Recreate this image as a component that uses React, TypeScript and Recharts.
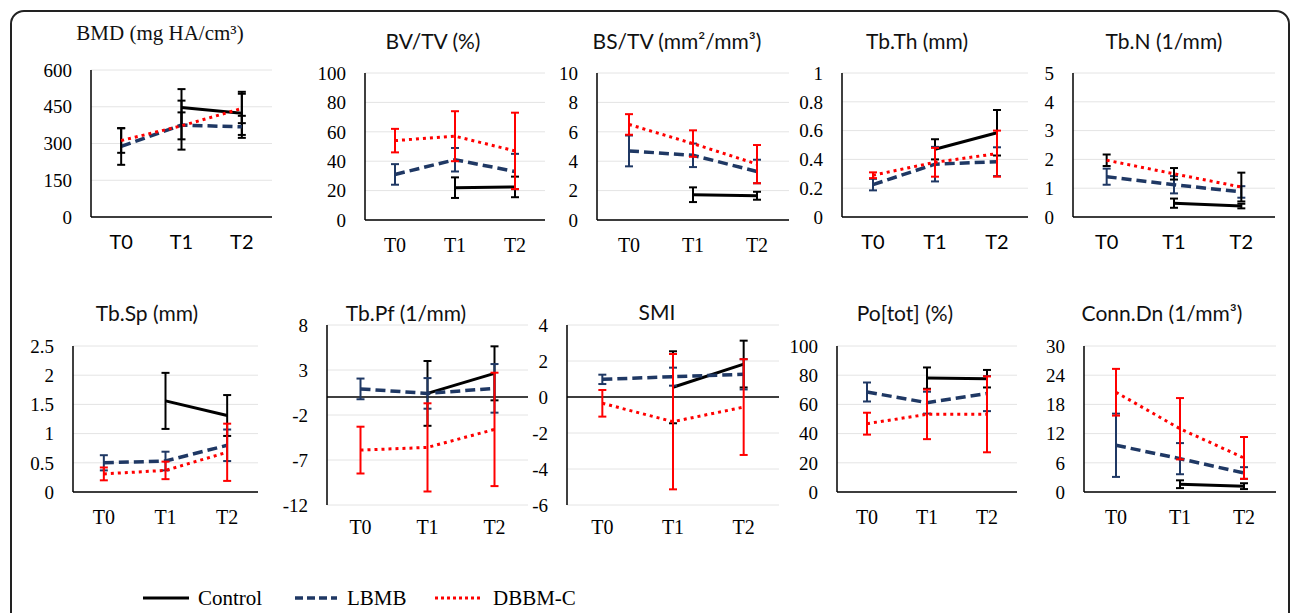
import React from 'react';
import { LineChart, Line, XAxis, YAxis, CartesianGrid, ErrorBar, ReferenceLine } from 'recharts';

const categories = ['T0', 'T1', 'T2'];

const bmd = {
  control: [null, 447, 423], controlSd: [null, 75, 88],
  lbmb: [288, 375, 368], lbmbSd: [75, 100, 45],
  dbbm: [312, 372, 443], dbbmSd: [50, 55, 60],
};
const bvtv = {
  control: [null, 22, 22.5], controlSd: [null, 7, 7],
  lbmb: [31, 41, 33], lbmbSd: [7, 8, 12],
  dbbm: [54, 57, 47], dbbmSd: [8, 17, 26],
};
const bstv = {
  control: [null, 1.72, 1.65], controlSd: [null, 0.5, 0.27],
  lbmb: [4.7, 4.4, 3.3], lbmbSd: [1.05, 0.8, 0.8],
  dbbm: [6.5, 5.2, 3.8], dbbmSd: [0.7, 0.9, 1.3],
};
const tbth = {
  control: [null, 0.47, 0.585], controlSd: [null, 0.07, 0.158],
  lbmb: [0.225, 0.367, 0.384], lbmbSd: [0.04, 0.12, 0.1],
  dbbm: [0.29, 0.38, 0.44], dbbmSd: [0.02, 0.1, 0.16],
};
const tbn = {
  control: [null, 0.48, 0.38], controlSd: [null, 0.16, 0.08],
  lbmb: [1.4, 1.12, 0.87], lbmbSd: [0.28, 0.3, 0.2],
  dbbm: [1.97, 1.5, 1.04], dbbmSd: [0.2, 0.2, 0.5],
};
const tbsp = {
  control: [null, 1.56, 1.31], controlSd: [null, 0.48, 0.35],
  lbmb: [0.5, 0.53, 0.8], lbmbSd: [0.13, 0.16, 0.27],
  dbbm: [0.31, 0.37, 0.68], dbbmSd: [0.11, 0.15, 0.49],
};
const tbpf = {
  control: [null, 0.4, 2.63], controlSd: [null, 3.6, 3.0],
  lbmb: [0.9, 0.4, 0.96], lbmbSd: [1.15, 1.7, 2.7],
  dbbm: [-5.9, -5.6, -3.6], dbbmSd: [2.6, 4.9, 6.3],
};
const smi = {
  control: [null, 0.54, 1.83], controlSd: [null, 2.0, 1.3],
  lbmb: [0.98, 1.13, 1.26], lbmbSd: [0.26, 0.5, 0.84],
  dbbm: [-0.35, -1.37, -0.56], dbbmSd: [0.74, 3.76, 2.66],
};
const potot = {
  control: [null, 78, 77.6], controlSd: [null, 7.3, 6],
  lbmb: [68.5, 61.2, 67.4], lbmbSd: [6.5, 7.5, 12],
  dbbm: [46.8, 53.2, 53.2], dbbmSd: [7.5, 17, 26],
};
const conndn = {
  control: [null, 1.6, 1.2], controlSd: [null, 0.8, 0.6],
  lbmb: [9.6, 6.85, 3.9], lbmbSd: [6.5, 3.2, 1.2],
  dbbm: [20.5, 13, 7], dbbmSd: [4.8, 6.3, 4.3],
};

const NAVY = '#1f3864';
const RED = '#ff0000';
const SERIF = "'Liberation Serif', 'DejaVu Serif', serif";
const SANS = "Lato, 'Open Sans', sans-serif";

const own = ['#000', NAVY, RED];

const panels = [
  { id: 'bmd', d: bmd, title: 'BMD (mg HA/cm³)', tFont: SERIF, tSize: 21, tx: 160, ty: 33, x0: 91, x1: 272, y0: 70, y1: 217, domain: [0, 600], ticks: [0, 150, 300, 450, 600], xFont: SANS, zero: false, err: ['#000', '#000', '#000'] },
  { id: 'bvtv', d: bvtv, title: 'BV/TV (%)', tFont: SANS, tSize: 21, tx: 433, ty: 40, x0: 365, x1: 545, y0: 73, y1: 220, domain: [0, 100], ticks: [0, 20, 40, 60, 80, 100], xFont: SERIF, zero: false, err: own },
  { id: 'bstv', d: bstv, title: 'BS/TV (mm²/mm³)', tFont: SANS, tSize: 21, tx: 677, ty: 40, x0: 597, x1: 789, y0: 73, y1: 220, domain: [0, 10], ticks: [0, 2, 4, 6, 8, 10], xFont: SERIF, zero: false, err: own },
  { id: 'tbth', d: tbth, title: 'Tb.Th (mm)', tFont: SANS, tSize: 21, tx: 917, ty: 40, x0: 842, x1: 1028, y0: 73, y1: 217, domain: [0, 1], ticks: [0, 0.2, 0.4, 0.6, 0.8, 1], xFont: SANS, zero: false, err: own },
  { id: 'tbn', d: tbn, title: 'Tb.N (1/mm)', tFont: SANS, tSize: 21, tx: 1164, ty: 40, x0: 1073, x1: 1275, y0: 73, y1: 217, domain: [0, 5], ticks: [0, 1, 2, 3, 4, 5], xFont: SANS, zero: false, err: ['#000', NAVY, '#000'] },
  { id: 'tbsp', d: tbsp, title: 'Tb.Sp (mm)', tFont: SANS, tSize: 21, tx: 147, ty: 312, x0: 73, x1: 258, y0: 346, y1: 492, domain: [0, 2.5], ticks: [0, 0.5, 1, 1.5, 2, 2.5], xFont: SERIF, zero: false, err: own },
  { id: 'tbpf', d: tbpf, title: 'Tb.Pf (1/mm)', tFont: SANS, tSize: 21, tx: 406, ty: 312, x0: 327, x1: 528, y0: 325, y1: 505, domain: [-12, 8], ticks: [-12, -7, -2, 3, 8], xFont: SERIF, zero: true, err: own },
  { id: 'smi', d: smi, title: 'SMI', tFont: SANS, tSize: 21, tx: 657, ty: 311, x0: 567, x1: 779, y0: 325, y1: 505, domain: [-6, 4], ticks: [-6, -4, -2, 0, 2, 4], xFont: SERIF, zero: true, err: own },
  { id: 'potot', d: potot, title: 'Po[tot] (%)', tFont: SANS, tSize: 21, tx: 905, ty: 312, x0: 837, x1: 1017, y0: 346, y1: 492, domain: [0, 100], ticks: [0, 20, 40, 60, 80, 100], xFont: SERIF, zero: false, err: own },
  { id: 'conndn', d: conndn, title: 'Conn.Dn (1/mm³)', tFont: SANS, tSize: 21, tx: 1162, ty: 312, x0: 1084, x1: 1276, y0: 346, y1: 492, domain: [0, 30], ticks: [0, 6, 12, 18, 24, 30], xFont: SERIF, zero: false, err: own },
];

const YW = 60;
const XH = 44;
const MT = 14;
const MR = 6;

const SmallChart = ({ p }: { p: any }) => {
  const rows = categories.map((c, i) => ({
    cat: c,
    control: p.d.control[i],
    controlSd: p.d.controlSd[i],
    lbmb: p.d.lbmb[i],
    lbmbSd: p.d.lbmbSd[i],
    dbbm: p.d.dbbm[i],
    dbbmSd: p.d.dbbmSd[i],
  }));
  const pw = p.x1 - p.x0;
  const pad = pw / 6;
  const w = YW + pw + MR;
  const h = MT + (p.y1 - p.y0) + XH;
  return (
    <div style={{ position: 'absolute', left: p.x0 - YW, top: p.y0 - MT }}>
      <LineChart width={w} height={h} data={rows} margin={{ top: MT, right: MR, left: 0, bottom: 0 }}>
        <CartesianGrid vertical={false} stroke="#e4e4e4" />
        <XAxis
          dataKey="cat"
          height={XH}
          interval={0}
          padding={{ left: pad, right: pad }}
          axisLine={p.zero ? false : { stroke: '#000', strokeWidth: 1.5 }}
          tickLine={false}
          tickMargin={p.zero ? 9 : 12}
          tick={{ fill: '#000', fontSize: 20, fontFamily: p.xFont, style: { fontFamily: p.xFont } }}
        />
        <YAxis
          type="number"
          domain={p.domain}
          ticks={p.ticks}
          interval={0}
          width={YW}
          axisLine={{ stroke: '#000', strokeWidth: 1.5 }}
          tickLine={false}
          tickMargin={13}
          tick={{ fill: '#000', fontSize: 19, fontFamily: SERIF, style: { fontFamily: SERIF } }}
        />
        {p.zero && <ReferenceLine y={0} stroke="#000" strokeWidth={1.5} />}
        <Line type="linear" dataKey="control" stroke="#000" strokeWidth={3} dot={false} activeDot={false} isAnimationActive={false}>
          <ErrorBar dataKey="controlSd" direction="y" width={4} stroke={p.err[0]} strokeWidth={2} isAnimationActive={false} />
        </Line>
        <Line type="linear" dataKey="lbmb" stroke={NAVY} strokeWidth={3.5} strokeDasharray="10 5" dot={false} activeDot={false} isAnimationActive={false}>
          <ErrorBar dataKey="lbmbSd" direction="y" width={4} stroke={p.err[1]} strokeWidth={2} isAnimationActive={false} />
        </Line>
        <Line type="linear" dataKey="dbbm" stroke={RED} strokeWidth={3} strokeDasharray="3 4" dot={false} activeDot={false} isAnimationActive={false}>
          <ErrorBar dataKey="dbbmSd" direction="y" width={4} stroke={p.err[2]} strokeWidth={2} isAnimationActive={false} />
        </Line>
      </LineChart>
    </div>
  );
};

const legendText = { fontFamily: SERIF, fontSize: 21 };

const App = () => {
  return (
    <div style={{ position: 'absolute', left: 0, top: 0, width: 1292, height: 613, overflow: 'hidden', background: '#fff' }}>
      <div
        style={{
          position: 'absolute',
          left: 10,
          top: 10,
          width: 1276,
          height: 700,
          border: '2px solid #222',
          borderRadius: 14,
        }}
      />
      {panels.map((p) => (
        <div
          key={'t-' + p.id}
          style={{
            position: 'absolute',
            left: p.tx,
            top: p.ty,
            transform: 'translate(-50%, -50%)',
            whiteSpace: 'nowrap',
            fontFamily: p.tFont,
            fontSize: p.tSize,
            color: '#111',
          }}
        >
          {p.title}
        </div>
      ))}
      {panels.map((p) => (
        <SmallChart key={p.id} p={p} />
      ))}
      <svg width={1292} height={613} style={{ position: 'absolute', left: 0, top: 0, pointerEvents: 'none' }}>
        <line x1={143} x2={189} y1={598} y2={598} stroke="#000" strokeWidth={3} />
        <text x={198} y={605} style={legendText} fill="#000">Control</text>
        <line x1={295} x2={337} y1={598} y2={598} stroke={NAVY} strokeWidth={3.5} strokeDasharray="8 4" />
        <text x={347} y={605} style={legendText} fill="#000">LBMB</text>
        <line x1={435} x2={481} y1={598} y2={598} stroke={RED} strokeWidth={3} strokeDasharray="3 3" />
        <text x={493} y={605} style={legendText} fill="#000">DBBM-C</text>
      </svg>
    </div>
  );
};

export default App;
